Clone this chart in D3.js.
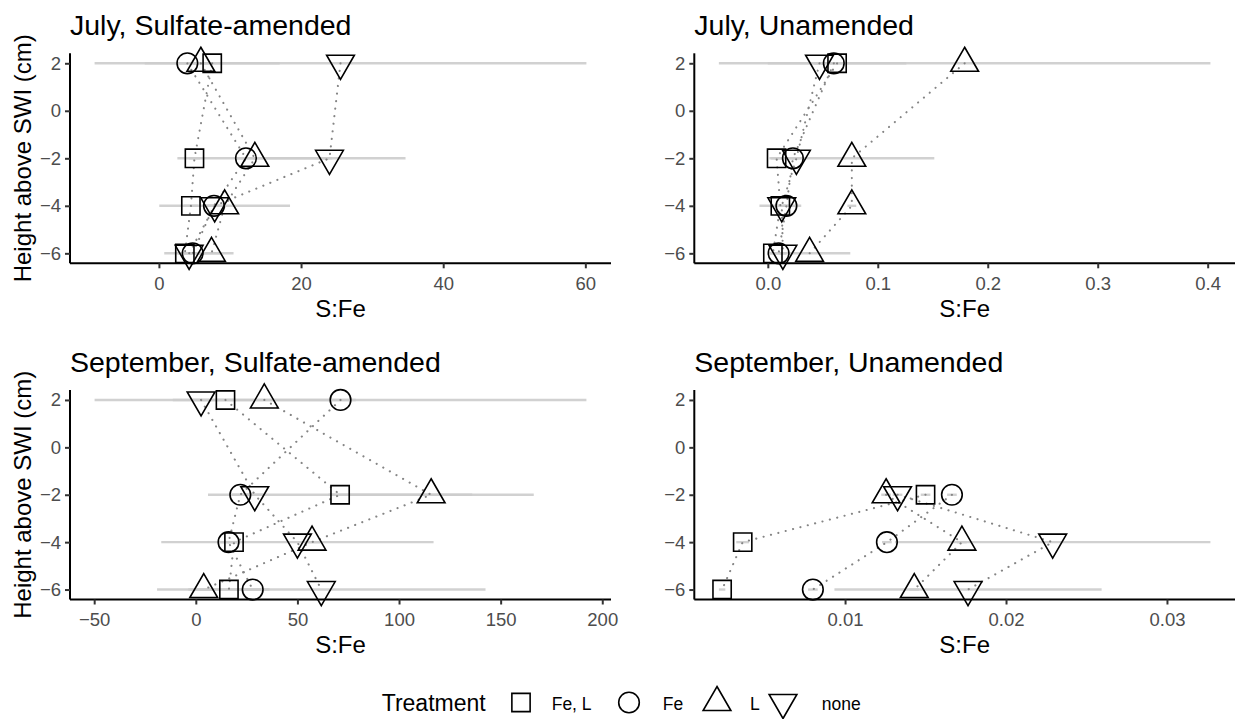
<!DOCTYPE html>
<html>
<head>
<meta charset="utf-8">
<script src="https://cdn.jsdelivr.net/npm/d3@7"></script>
<style>
  html, body { margin: 0; padding: 0; background: #fff; }
  svg { display: block; font-family: "Liberation Sans", Arial, Helvetica, sans-serif; }
</style>
</head>
<body>
<svg id="chart" width="1241" height="719"></svg>
<script>
// ---------------- data ----------------
const panelTitles = ["July, Sulfate-amended", "July, Unamended", "September, Sulfate-amended", "September, Unamended"];
const depths = [2, -2, -4, -6];
const treatments = ["Fe, L", "Fe", "L", "none"];
const shapes = ["square", "circle", "triangle-up", "triangle-down"];
const yTicks = [-6, -4, -2, 0, 2];

// rows: treatments (Fe, L | Fe | L | none); columns: depths (2, -2, -4, -6)
const julySulfateMean = [
  [7.5, 5.0, 4.5, 3.65],
  [4.0, 12.25, 7.75, 4.75],
  [5.9, 13.5, 9.25, 7.4],
  [25.55, 24.0, 7.85, 4.25]
];
const julySulfateSd = [
  [9.5, 0.8, 1.0, 1.0],
  [1.0, 1.5, 1.5, 4.0],
  [1.0, 10.9, 9.2, 3.1],
  [34.6, 10.7, 1.0, 1.0]
];
const julyUnamendedMean = [
  [0.063, 0.008, 0.0114, 0.0046],
  [0.060, 0.0228, 0.0169, 0.0098],
  [0.179, 0.0764, 0.0764, 0.038],
  [0.047, 0.026, 0.0127, 0.0137]
];
const julyUnamendedSd = [
  [0.063, 0.005, 0.019, 0.003],
  [0.004, 0.004, 0.003, 0.003],
  [0.2235, 0.075, 0.004, 0.037],
  [0.005, 0.004, 0.004, 0.003]
];
const septSulfateMean = [
  [14.6, 71.0, 18.8, 16.3],
  [71.2, 21.9, 16.1, 28.0],
  [33.7, 115.8, 57.2, 3.9],
  [2.6, 29.0, 50.0, 61.75]
];
const septSulfateSd = [
  [5, 65, 3, 20],
  [121, 4, 4, 4],
  [45, 50.5, 4, 4],
  [4, 4, 67, 80.8]
];
const septUnamendedMean = [
  [null, 0.0150, 0.00364, 0.00236],
  [null, 0.01664, 0.0126, 0.0080],
  [null, 0.01255, 0.01726, 0.0143],
  [null, 0.01326, 0.0229, 0.01764]
];
const septUnamendedSd = [
  [null, 0.0003, 0.0004, 0.0002],
  [null, 0.0003, 0.0003, 0.0003],
  [null, 0.0003, 0.0003, 0.0003],
  [null, 0.0003, 0.0098, 0.0083]
];
const julySulfateTicks = [0, 20, 40, 60];
const julyUnamendedTicks = [0, 0.1, 0.2, 0.3, 0.4];
const septSulfateTicks = [-50, 0, 50, 100, 150, 200];
const septUnamendedTicks = [0.01, 0.02, 0.03];

// ---------------- layout ----------------
const panels = [
  { title: panelTitles[0], mean: julySulfateMean, sd: julySulfateSd, ticks: julySulfateTicks, fmt: d3.format("d"), left: 70, right: 611, top: 53.3, bottom: 263.3 },
  { title: panelTitles[1], mean: julyUnamendedMean, sd: julyUnamendedSd, ticks: julyUnamendedTicks, fmt: d3.format(".1f"), left: 694.3, right: 1235, top: 53.3, bottom: 263.3 },
  { title: panelTitles[2], mean: septSulfateMean, sd: septSulfateSd, ticks: septSulfateTicks, fmt: d3.format("d"), left: 70, right: 611, top: 390, bottom: 599.5 },
  { title: panelTitles[3], mean: septUnamendedMean, sd: septUnamendedSd, ticks: septUnamendedTicks, fmt: d3.format(".2f"), left: 694.3, right: 1235, top: 390, bottom: 599.5 }
];

const svg = d3.select("#chart");
const R = 10.3; // base marker radius
const TRC0 = Math.sqrt(4 * Math.PI / (3 * Math.sqrt(3)));
const TRC1 = TRC0 * Math.sqrt(3) / 2;
const TRC2 = TRC0 / 2;

function shapePath(shape, cx, cy, r) {
  if (shape === "square") {
    const h = 0.8862 * r;
    return `M${cx - h},${cy - h}H${cx + h}V${cy + h}H${cx - h}Z`;
  }
  if (shape === "circle") {
    return `M${cx + r},${cy}A${r},${r} 0 1,1 ${cx - r},${cy}A${r},${r} 0 1,1 ${cx + r},${cy}Z`;
  }
  const rr = TRC0 * r, xc = TRC1 * r, yc = TRC2 * r;
  if (shape === "triangle-up") {
    return `M${cx},${cy - rr}L${cx + xc},${cy + yc}L${cx - xc},${cy + yc}Z`;
  }
  return `M${cx},${cy + rr}L${cx + xc},${cy - yc}L${cx - xc},${cy - yc}Z`;
}

const yPad = 0.42;

panels.forEach((p) => {
  const g = svg.append("g");
  const vals = [];
  p.mean.forEach((row, i) => row.forEach((m, j) => {
    if (m !== null) { vals.push(m - p.sd[i][j]); vals.push(m + p.sd[i][j]); }
  }));
  const [lo, hi] = d3.extent(vals);
  const ex = (hi - lo) * 0.05;
  const x = d3.scaleLinear().domain([lo - ex, hi + ex]).range([p.left, p.right]);
  const y = d3.scaleLinear().domain([-6 - yPad, 2 + yPad]).range([p.bottom, p.top]);

  // error bars
  const bars = g.append("g");
  p.mean.forEach((row, i) => row.forEach((m, j) => {
    if (m === null) return;
    bars.append("line")
      .attr("x1", x(m - p.sd[i][j])).attr("x2", x(m + p.sd[i][j]))
      .attr("y1", y(depths[j])).attr("y2", y(depths[j]))
      .attr("stroke", "#cccccc").attr("stroke-width", 2.4).attr("stroke-opacity", 0.9);
  }));

  // dotted paths per treatment
  const line = d3.line().x(d => x(d.v)).y(d => y(d.depth));
  p.mean.forEach((row, i) => {
    const pts = row.map((v, j) => ({ v, depth: depths[j] })).filter(d => d.v !== null);
    g.append("path").attr("d", line(pts))
      .attr("fill", "none").attr("stroke", "#858585").attr("stroke-width", 2.1)
      .attr("stroke-dasharray", "0.1,7.5").attr("stroke-linecap", "round");
  });

  // points
  p.mean.forEach((row, i) => row.forEach((m, j) => {
    if (m === null) return;
    g.append("path").attr("d", shapePath(shapes[i], x(m), y(depths[j]), R))
      .attr("fill", "none").attr("stroke", "#000").attr("stroke-width", 1.6);
  }));

  // axes
  const xAxis = d3.axisBottom(x).tickValues(p.ticks).tickFormat(p.fmt).tickSize(5).tickPadding(4).tickSizeOuter(0);
  const xa = g.append("g").attr("transform", `translate(0,${p.bottom})`).call(xAxis);
  const yAxis = d3.axisLeft(y).tickValues(yTicks).tickFormat(d3.format("d")).tickSize(5).tickPadding(4).tickSizeOuter(0);
  const ya = g.append("g").attr("transform", `translate(${p.left},0)`).call(yAxis);
  [xa, ya].forEach(a => {
    a.select(".domain").attr("stroke", "#000").attr("stroke-width", 2);
    a.selectAll(".tick line").attr("stroke", "#333").attr("stroke-width", 2);
    a.selectAll(".tick text").attr("fill", "#4d4d4d").style("font-size", "18.5px")
      .style("font-family", '"Liberation Sans", Arial, sans-serif');
  });
  xa.selectAll(".tick text").attr("dy", "0.95em");
  xa.select(".domain").attr("d", `M${p.left},0H${p.right}`);
  ya.select(".domain").attr("d", `M0,${p.bottom}V${p.top}`);

  // titles
  g.append("text").attr("x", p.left).attr("y", p.top - 18.5)
    .attr("font-size", 28.5).attr("fill", "#000").text(p.title);
  g.append("text").attr("x", (p.left + p.right) / 2).attr("y", p.bottom + 53.5)
    .attr("text-anchor", "middle").attr("font-size", 24).attr("fill", "#000").text("S:Fe");
  if (p.left < 100) {
    const cy = (p.top + p.bottom) / 2;
    g.append("text").attr("transform", `translate(31,${cy}) rotate(-90)`)
      .attr("text-anchor", "middle").attr("font-size", 24).attr("fill", "#000")
      .text("Height above SWI (cm)");
  }
});

// ---------------- legend ----------------
const legend = svg.append("g");
legend.append("text").attr("x", 381.7).attr("y", 711).attr("font-size", 23).attr("fill", "#000").text("Treatment");
const keyCenters = [521, 629, 717, 783];
const labelStarts = [551.7, 662.7, 750, 821.7];
treatments.forEach((t, i) => {
  legend.append("path").attr("d", shapePath(shapes[i], keyCenters[i], 702.5, R))
    .attr("fill", "none").attr("stroke", "#000").attr("stroke-width", 1.6);
  legend.append("text").attr("x", labelStarts[i]).attr("y", 709.5)
    .attr("font-size", 17.5).attr("fill", "#000").text(t);
});
</script>
</body>
</html>
